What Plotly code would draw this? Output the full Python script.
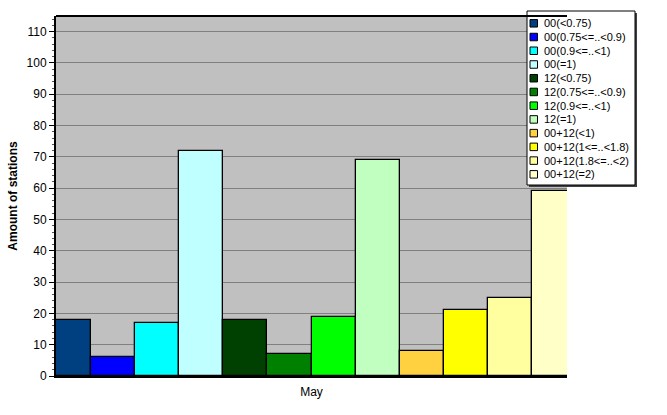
import plotly.graph_objects as go

category = ["May"]
series_names = ["00(<0.75)", "00(0.75<=..<0.9)", "00(0.9<=..<1)", "00(=1)",
                "12(<0.75)", "12(0.75<=..<0.9)", "12(0.9<=..<1)", "12(=1)",
                "00+12(<1)", "00+12(1<=..<1.8)", "00+12(1.8<=..<2)", "00+12(=2)"]
series_values = [18, 6, 17, 72, 18, 7, 19, 69, 8, 21, 25, 59]
series_colors = ["#004080", "#0000FF", "#00FFFF", "#C0FFFF",
                 "#004000", "#008000", "#00FF00", "#C0FFC0",
                 "#FFD040", "#FFFF00", "#FFFFA0", "#FFFFC8"]
y_ticks = list(range(0, 111, 10))

fig = go.Figure()
for name, val, col in zip(series_names, series_values, series_colors):
    fig.add_trace(go.Bar(x=category, y=[val], name=name, showlegend=False,
                         marker=dict(color=col, line=dict(color="black", width=1.3))))

W, H = 667, 415
L, R, T, B = 56, 100, 16, 39
pw, ph = W - L - R, H - T - B


def px_x(p):
    return (p - L) / pw


def px_y(p):
    return (H - B - p) / ph


shapes = []
annotations = []
# legend box (shadow + box)
lx0, lx1, ly0, ly1 = 527, 635, 11, 185
shapes.append(dict(type="rect", xref="paper", yref="paper", layer="above",
                   x0=px_x(lx0 + 2), x1=px_x(lx1 + 2), y0=px_y(ly0 + 2), y1=px_y(ly1 + 2),
                   fillcolor="#404040", line=dict(width=0)))
shapes.append(dict(type="rect", xref="paper", yref="paper", layer="above",
                   x0=px_x(lx0), x1=px_x(lx1), y0=px_y(ly0), y1=px_y(ly1),
                   fillcolor="white", line=dict(color="black", width=1)))
row0, step = 23.3, 13.73
for i, (name, col) in enumerate(zip(series_names, series_colors)):
    cy = row0 + i * step
    shapes.append(dict(type="rect", xref="paper", yref="paper", layer="above",
                       x0=px_x(530), x1=px_x(537.5), y0=px_y(cy - 3.75), y1=px_y(cy + 3.75),
                       fillcolor=col, line=dict(color="black", width=1)))
    annotations.append(dict(xref="paper", yref="paper", x=px_x(542), y=px_y(cy),
                            xanchor="left", yanchor="middle", text=name, showarrow=False,
                            font=dict(size=11, color="black")))

fig.update_layout(
    width=W, height=H,
    margin=dict(l=L, r=R, t=T, b=B, pad=0, autoexpand=False),
    barmode="group", bargap=0, bargroupgap=0,
    paper_bgcolor="white", plot_bgcolor="#C0C0C0",
    font=dict(family="Liberation Sans, Arial, sans-serif", size=12, color="black"),
    showlegend=False,
    xaxis=dict(range=[-0.483, 0.483], showgrid=False, showline=True, linecolor="black",
               linewidth=2, ticks="", zeroline=False, automargin=False,
               ticklabelstandoff=4),
    yaxis=dict(range=[0, 115], tickvals=y_ticks, showgrid=True, gridcolor="#808080",
               gridwidth=1, showline=True, linecolor="black", linewidth=2,
               ticks="outside", ticklen=5, tickcolor="black", zeroline=False,
               automargin=False,
               minor=dict(dtick=2, ticks="outside", ticklen=2, tickcolor="#555", showgrid=False),
               title=dict(text="<b>Amount of stations</b>", font=dict(size=12), standoff=6)),
    shapes=shapes + [dict(type="line", xref="paper", yref="paper", x0=0, x1=1, y0=1, y1=1,
                          line=dict(color="black", width=2))],
    annotations=annotations,
)
fig.write_html("out.html", config={"displayModeBar": False},
               post_script="document.body.style.margin='0px';")
